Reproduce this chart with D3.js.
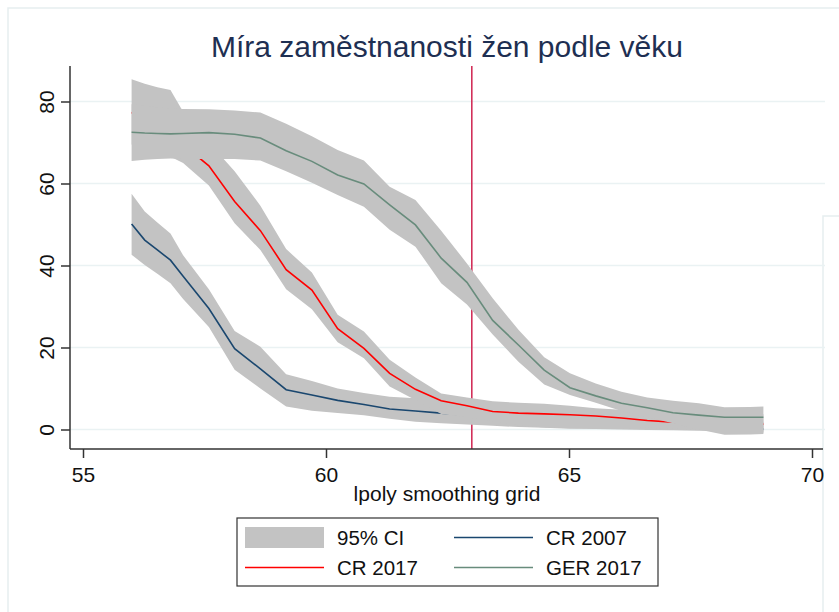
<!DOCTYPE html>
<html>
<head>
<meta charset="utf-8">
<script src="https://cdn.jsdelivr.net/npm/d3@7"></script>
<style>
  body { margin: 0; background: #fff; }
  svg { font-family: "Liberation Sans", Arial, sans-serif; }
</style>
</head>
<body>
<svg id="chart" width="839" height="612"></svg>
<script>
// lpoly smoothing grid (every other grid point, plus a couple near the start)
const ages = [56.00, 56.27, 56.53, 56.80, 57.06, 57.59, 58.12, 58.65, 59.18, 59.71,
  60.24, 60.78, 61.31, 61.84, 62.37, 62.90, 63.43, 63.96, 64.49, 65.02,
  65.55, 66.08, 66.61, 67.14, 67.67, 68.20, 68.73, 69.00];

// CR 2007
const cr07 = [50.1, 46.2, 43.8, 41.3, 37.4, 29.5, 19.7, 14.8, 9.7, 8.4,
  7.1, 6.1, 5.0, 4.5, 4.0, 3.5, 3.0, 2.6, 2.2, 1.8,
  1.5, 1.2, 0.9, 0.7, 0.5, 0.3, 0.2, 0.1];
const cr07Hi = [57.5, 53.2, 50.5, 47.8, 42.5, 34.2, 24.0, 20.2, 13.5, 11.8,
  10.0, 8.9, 8.0, 7.6, 7.0, 6.0, 5.3, 4.8, 4.3, 3.8,
  3.4, 3.0, 2.7, 2.4, 2.2, 2.0, 1.9, 1.9];
const cr07Lo = [42.6, 40.1, 38.0, 35.7, 31.8, 25.0, 14.6, 10.0, 5.6, 4.6,
  4.0, 3.5, 2.6, 1.9, 1.5, 1.2, 0.9, 0.6, 0.4, 0.2,
  0.1, 0.0, -0.1, -0.2, -0.3, -0.4, -0.5, -0.5];

// CR 2017
const cr17 = [77.3, 75.8, 74.0, 71.8, 69.5, 64.3, 55.6, 48.5, 39.0, 34.0,
  24.6, 19.8, 13.7, 9.8, 7.0, 5.8, 4.4, 4.0, 3.8, 3.6,
  3.3, 2.8, 2.2, 1.8, 1.6, 1.5, 1.4, 1.3];
const cr17Hi = [85.4, 84.3, 83.5, 82.8, 77.5, 70.0, 63.0, 54.6, 44.0, 38.3,
  28.0, 23.9, 17.0, 12.7, 8.8, 7.8, 6.9, 6.5, 6.3, 5.8,
  5.2, 4.8, 4.3, 4.0, 3.8, 3.7, 3.7, 3.7];
const cr17Lo = [69.5, 68.5, 67.5, 66.5, 65.0, 59.5, 50.3, 43.8, 34.2, 29.3,
  21.3, 17.4, 10.5, 7.2, 3.8, 3.0, 2.0, 1.0, 0.5, 0.3,
  0.3, 0.3, 0.4, 0.2, 0.0, -0.3, -0.6, -0.8];

// GER 2017
const ger17 = [72.5, 72.3, 72.2, 72.1, 72.2, 72.4, 72.0, 71.1, 68.0, 65.4,
  62.1, 59.9, 54.8, 49.9, 41.8, 35.9, 26.6, 20.6, 14.5, 10.2,
  8.2, 6.4, 5.3, 4.1, 3.5, 3.0, 3.0, 3.0];
const ger17Hi = [79.3, 78.9, 78.6, 78.3, 78.2, 78.1, 77.8, 77.3, 74.6, 71.5,
  68.2, 65.6, 59.2, 56.0, 48.5, 40.5, 32.0, 24.3, 17.6, 13.7,
  11.2, 9.2, 7.8, 7.0, 6.4, 5.4, 5.5, 5.6];
const ger17Lo = [65.5, 65.8, 66.0, 66.1, 66.0, 66.0, 66.0, 65.6, 63.0, 60.2,
  57.2, 54.3, 48.7, 44.6, 35.7, 30.5, 23.2, 16.5, 11.0, 8.4,
  6.5, 4.5, 3.0, 1.5, 0.0, -1.3, -1.2, -1.1];

const xTicks = [55, 60, 65, 70];
const yTicks = [0, 20, 40, 60, 80];
const refAge = 63;

const seriesNames = ["CR 2007", "CR 2017", "GER 2017"];
const seriesColors = ["#1a476f", "#ff0000", "#688c7c"];
const ciColor = "#c3c3c3";

const series = [
  { name: seriesNames[0], color: seriesColors[0], mid: cr07, lo: cr07Lo, hi: cr07Hi },
  { name: seriesNames[1], color: seriesColors[1], mid: cr17, lo: cr17Lo, hi: cr17Hi },
  { name: seriesNames[2], color: seriesColors[2], mid: ger17, lo: ger17Lo, hi: ger17Hi }
];

// layout
const plotLeft = 70, plotRight = 823, plotTop = 66, plotBottom = 449;

const x = d3.scaleLinear().domain([55, 70]).range([83, 812]);
const y = d3.scaleLinear().domain([0, 80]).range([429.5, 101.5]);

const svg = d3.select("#chart");

// light outer frame (graph region edges)
svg.append("path")
  .attr("d", "M8,612V8H839")
  .attr("fill", "none").attr("stroke", "#e6eef0").attr("stroke-width", 1.5);
svg.append("path")
  .attr("d", "M823,612V216H839")
  .attr("fill", "none").attr("stroke", "#e6eef0").attr("stroke-width", 1.5);

// title
svg.append("text")
  .attr("x", 447).attr("y", 57)
  .attr("text-anchor", "middle")
  .attr("font-size", "30px")
  .attr("fill", "#1e2f52")
  .text("Míra zaměstnanosti žen podle věku");

// grid
svg.append("g").selectAll("line")
  .data(yTicks)
  .enter().append("line")
  .attr("x1", plotLeft).attr("x2", 825)
  .attr("y1", d => y(d)).attr("y2", d => y(d))
  .attr("stroke", "#eaf2f3").attr("stroke-width", 1.5);

// reference line at age 63 (drawn beneath the plots)
svg.append("line")
  .attr("x1", x(refAge)).attr("x2", x(refAge))
  .attr("y1", plotTop).attr("y2", plotBottom)
  .attr("stroke", "#d2305a").attr("stroke-width", 1.6);

const area = d3.area()
  .x((d, i) => x(ages[i]))
  .y0(d => y(d[0]))
  .y1(d => y(d[1]));

const line = d3.line()
  .x((d, i) => x(ages[i]))
  .y(d => y(d));

const plots = svg.append("g");
series.forEach(s => {
  plots.append("path")
    .datum(s.lo.map((v, i) => [v, s.hi[i]]))
    .attr("d", area)
    .attr("fill", ciColor);
  plots.append("path")
    .datum(s.mid)
    .attr("d", line)
    .attr("fill", "none")
    .attr("stroke", s.color)
    .attr("stroke-width", 1.6);
});

// axes
const xAxis = svg.append("g")
  .attr("transform", `translate(0,${plotBottom})`)
  .call(d3.axisBottom(x).tickValues(xTicks).tickSize(9).tickPadding(9).tickFormat(d3.format("d")));
xAxis.select(".domain").remove();
xAxis.append("line")
  .attr("x1", plotLeft).attr("x2", plotRight)
  .attr("stroke", "#333").attr("stroke-width", 1.5);
xAxis.selectAll(".tick line").attr("stroke", "#333").attr("stroke-width", 1.5);
xAxis.selectAll(".tick text")
  .attr("font-size", "21px").attr("fill", "#111")
  .attr("font-family", "Liberation Sans, Arial, sans-serif");

const yAxis = svg.append("g")
  .attr("transform", `translate(${plotLeft},0)`)
  .call(d3.axisLeft(y).tickValues(yTicks).tickSize(9).tickFormat(d3.format("d")));
yAxis.select(".domain").remove();
yAxis.append("line")
  .attr("y1", plotTop).attr("y2", plotBottom)
  .attr("stroke", "#333").attr("stroke-width", 1.5);
yAxis.selectAll(".tick line").attr("stroke", "#333").attr("stroke-width", 1.5);
yAxis.selectAll(".tick text")
  .attr("x", 0).attr("dy", null)
  .attr("transform", "translate(-16.5,0) rotate(-90)")
  .attr("text-anchor", "middle")
  .attr("font-size", "21px").attr("fill", "#111")
  .attr("font-family", "Liberation Sans, Arial, sans-serif");

// x-axis title
svg.append("text")
  .attr("x", 447).attr("y", 501)
  .attr("text-anchor", "middle")
  .attr("font-size", "21px")
  .attr("fill", "#111")
  .text("lpoly smoothing grid");

// legend
const legend = svg.append("g");
legend.append("rect")
  .attr("x", 237).attr("y", 518).attr("width", 421).attr("height", 68)
  .attr("fill", "#fff").attr("stroke", "#333").attr("stroke-width", 1.2);

const legendItems = [
  { label: "95% CI", kind: "ci", col: 0, row: 0 },
  { label: seriesNames[0], kind: "line", color: seriesColors[0], col: 1, row: 0 },
  { label: seriesNames[1], kind: "line", color: seriesColors[1], col: 0, row: 1 },
  { label: seriesNames[2], kind: "line", color: seriesColors[2], col: 1, row: 1 }
];
legendItems.forEach(it => {
  const gx = 245 + it.col * 209;
  const gy = 537.5 + it.row * 30;
  if (it.kind === "ci") {
    legend.append("rect")
      .attr("x", gx).attr("y", gy - 10.5).attr("width", 79).attr("height", 21)
      .attr("fill", ciColor);
  } else {
    legend.append("line")
      .attr("x1", gx).attr("x2", gx + 79)
      .attr("y1", gy).attr("y2", gy)
      .attr("stroke", it.color).attr("stroke-width", 1.6);
  }
  legend.append("text")
    .attr("x", gx + 92).attr("y", gy + 7.5)
    .attr("font-size", "20.5px").attr("fill", "#111")
    .text(it.label);
});
</script>
</body>
</html>
